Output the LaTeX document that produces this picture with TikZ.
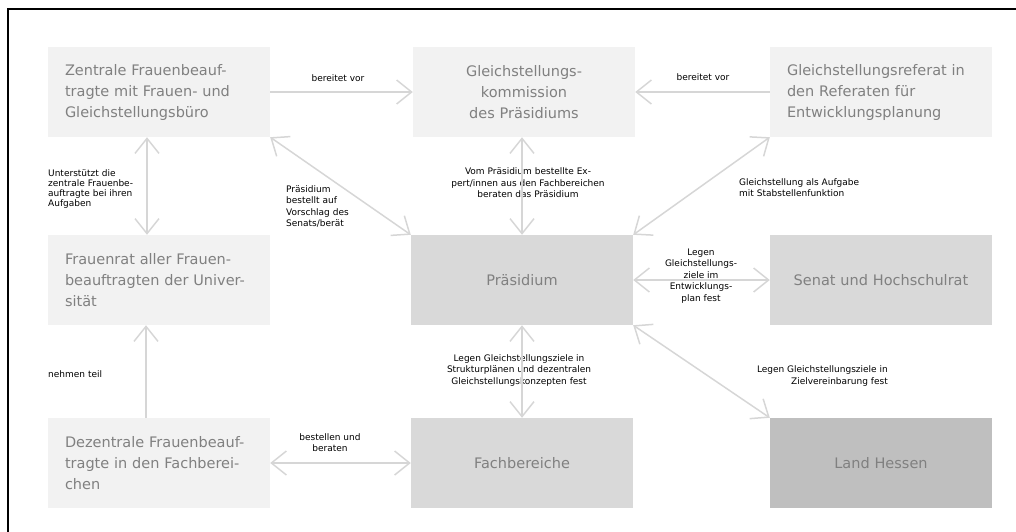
\documentclass[tikz,border=0pt]{standalone}
\usepackage{fontspec}
\setmainfont{DejaVu Sans}
\usetikzlibrary{arrows.meta}
\definecolor{boxlight}{HTML}{F2F2F2}
\definecolor{boxmid}{HTML}{D9D9D9}
\definecolor{boxdark}{HTML}{BFBFBF}
\definecolor{boxtext}{HTML}{808080}
\definecolor{linkgray}{HTML}{D6D6D6}
\begin{document}
\begin{tikzpicture}[x=1pt, y=-1pt,
  box/.style={minimum width=222pt, minimum height=90pt, inner sep=0pt, text=boxtext, font=\fontsize{14.5}{21}\selectfont},
  leftbox/.style={box, text width=188pt, align=left},
  midbox/.style={box, text width=200pt, align=center},
  lbl/.style={inner sep=0pt, font=\fontsize{9}{11.5}\selectfont},
  barb/.tip={Straight Barb[length=15pt, width=24pt]},
  link/.style={draw=linkgray, line width=1.5pt, -barb},
  both/.style={link, barb-barb}]
  \useasboundingbox (0,0) rectangle (1016,531);
  \begin{scope}
    \clip (0,0) rectangle (1016,531);
    \draw[line width=2pt] (8,9) rectangle (1040,560);
  \end{scope}
  % boxes
  \node[leftbox, fill=boxlight] (zentrale) at (159,92) {Zentrale Frauenbeauf-\\tragte mit Frauen- und\\Gleichstellungsbüro};
  \node[midbox, fill=boxlight] (kommission) at (524,92) {Gleichstellungs-\\kommission\\des Präsidiums};
  \node[leftbox, fill=boxlight] (referat) at (881,92) {Gleichstellungsreferat in\\den Referaten für\\Entwicklungsplanung};
  \node[leftbox, fill=boxlight] (frauenrat) at (159,280) {Frauenrat aller Frauen-\\beauftragten der Univer-\\sität};
  \node[midbox, fill=boxmid] (praesidium) at (522,280) {Präsidium};
  \node[midbox, fill=boxmid] (senat) at (881,280) {Senat und Hochschulrat};
  \node[leftbox, fill=boxlight] (dezentral) at (159,463) {Dezentrale Frauenbeauf-\\tragte in den Fachberei-\\chen};
  \node[midbox, fill=boxmid] (fach) at (522,463) {Fachbereiche};
  \node[midbox, fill=boxdark] (hessen) at (881,463) {Land Hessen};
  % labels
  \node[lbl] (bereitet1) at (338,78) {bereitet vor};
  \node[lbl] (bereitet2) at (703,77) {bereitet vor};
  \node[lbl, align=left, anchor=north west, font=\fontsize{9}{10}\selectfont] (unterst) at (48,169) {Unterstützt die\\zentrale Frauenbe-\\auftragte bei ihren\\Aufgaben};
  \node[lbl, align=left, anchor=north west] (bestellt) at (286,185) {Präsidium\\bestellt auf\\Vorschlag des\\Senats/berät};
  \node[lbl, align=center] (experten) at (528,183) {Vom Präsidium bestellte Ex-\\pert/innen aus den Fachbereichen\\beraten das Präsidium};
  \node[lbl, align=left, anchor=west] (stab) at (739,187.5) {Gleichstellung als Aufgabe\\mit Stabstellenfunktion};
  \node[lbl, align=center] (entw) at (701,276) {Legen\\Gleichstellungs-\\ziele im\\Entwicklungs-\\plan fest};
  \node[lbl, anchor=west] (teil) at (48,374) {nehmen teil};
  \node[lbl, align=center] (bestellen) at (330,442.5) {bestellen und\\beraten};
  \node[lbl, align=center] (struktur) at (519,370.5) {Legen Gleichstellungsziele in\\Strukturplänen und dezentralen\\Gleichstellungskonzepten fest};
  \node[lbl, align=right, anchor=east] (zielv) at (888,376) {Legen Gleichstellungsziele in\\Zielvereinbarung fest};
  % connectors
  \draw[link] (zentrale) -- (kommission);
  \draw[link] (referat) -- (kommission);
  \draw[both] ([xshift=-12pt]zentrale.south) -- ([xshift=-12pt]frauenrat.north);
  \draw[link] ([xshift=-13pt]dezentral.north) -- ([xshift=-13pt]frauenrat.south);
  \draw[both] (zentrale.south east) -- (praesidium.north west);
  \draw[both] ([xshift=-2pt]kommission.south) -- (praesidium);
  \draw[both] (referat.south west) -- (praesidium.north east);
  \draw[both] (praesidium) -- (senat);
  \draw[both] (praesidium) -- (fach);
  \draw[both] (praesidium.south east) -- (hessen.north west);
  \draw[both] (dezentral) -- (fach);
\end{tikzpicture}
\end{document}
